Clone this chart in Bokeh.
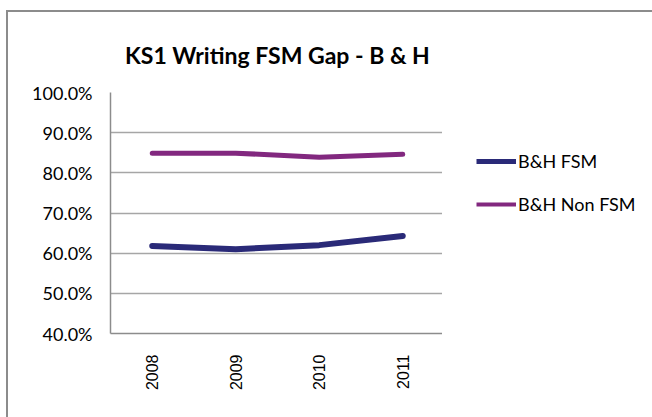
import math
from bokeh.plotting import figure
from bokeh.layouts import row
from bokeh.models import (ColumnDataSource, FactorRange, Range1d, FixedTicker,
                          PrintfTickFormatter, Legend, LegendItem)
from bokeh.embed import file_html
from bokeh.resources import INLINE

years = ["2008", "2009", "2010", "2011"]
fsm = [61.8, 61.0, 62.0, 64.3]
non_fsm = [84.9, 84.9, 83.9, 84.6]
y_ticks = [40, 50, 60, 70, 80, 90, 100]
series_names = ["B&H FSM", "B&H Non FSM"]
series_colors = ["#2a2a78", "#82287f"]

title_text = "KS1 Writing FSM Gap - B & H"
border_css = "2px solid #8c8c8c"

p = figure(width=436, height=407, output_backend="svg", toolbar_location=None,
           x_range=FactorRange(*years, range_padding=0), y_range=Range1d(40, 100),
           min_border_left=102, min_border_right=0, min_border_top=80, min_border_bottom=86,
           title=title_text)
p.styles = {"border-left": border_css, "border-top": border_css}

p.title.align = "center"
p.title.vertical_align = "top"
p.title.text_font = "Lato"
p.title.text_font_style = "bold"
p.title.text_font_size = "23px"
p.title.text_line_height = 1.3
p.title.text_color = "#000000"
p.title.standoff = 44

p.outline_line_color = None
p.background_fill_color = "white"
p.border_fill_color = "white"

p.xgrid.grid_line_color = None
p.ygrid.grid_line_color = "#a6a6a6"
p.ygrid.grid_line_width = 1.5

p.yaxis.ticker = FixedTicker(ticks=y_ticks)
p.yaxis.formatter = PrintfTickFormatter(format="%.1f%%")
p.yaxis.major_tick_line_color = None
p.yaxis.minor_tick_line_color = None
p.yaxis.axis_line_color = "#8c8c8c"
p.yaxis.axis_line_width = 1.5
p.yaxis.major_label_text_font = "Lato"
p.yaxis.major_label_text_font_size = "18px"
p.yaxis.major_label_text_color = "#000000"
p.yaxis.major_label_standoff = 12

p.xaxis.major_tick_line_color = None
p.xaxis.minor_tick_line_color = None
p.xaxis.axis_line_color = "#8c8c8c"
p.xaxis.axis_line_width = 1.5
p.xaxis.major_label_orientation = math.pi / 2
p.xaxis.major_label_text_font = "Liberation Sans"
p.xaxis.major_label_text_font_size = "16px"
p.xaxis.major_label_text_color = "#000000"
p.xaxis.major_label_standoff = 15

src = ColumnDataSource(dict(year=years, fsm=fsm, non_fsm=non_fsm))
p.line("year", "fsm", source=src, line_color=series_colors[0], line_width=6,
       line_cap="round", line_join="round")
p.line("year", "non_fsm", source=src, line_color=series_colors[1], line_width=5,
       line_cap="round", line_join="round")

# legend panel (a second, axis-less figure to the right of the plot)
q = figure(width=216, height=407, output_backend="svg", toolbar_location=None,
           x_range=FactorRange(*years, range_padding=0), y_range=Range1d(0, 1),
           min_border_left=0, min_border_right=0, min_border_top=0, min_border_bottom=0)
q.styles = {"border-top": border_css}
q.axis.visible = False
q.grid.visible = False
q.outline_line_color = None
q.background_fill_color = "white"
q.border_fill_color = "white"
lr1 = q.line("year", "fsm", source=src, line_color=series_colors[0], line_width=5)
lr2 = q.line("year", "non_fsm", source=src, line_color=series_colors[1], line_width=4)

legend = Legend(items=[LegendItem(label=series_names[0], renderers=[lr1]),
                       LegendItem(label=series_names[1], renderers=[lr2])],
                location=(34, 118), padding=0, margin=0, border_line_color=None,
                background_fill_alpha=0, glyph_width=40, glyph_height=20,
                label_height=20, label_standoff=2, spacing=21,
                label_text_font="Lato", label_text_font_size="18px",
                label_text_color="#000000")
q.add_layout(legend, "center")

layout = row(p, q, margin=(10, 0, 0, 6))

open("out.html", "w").write(file_html(layout, INLINE))
